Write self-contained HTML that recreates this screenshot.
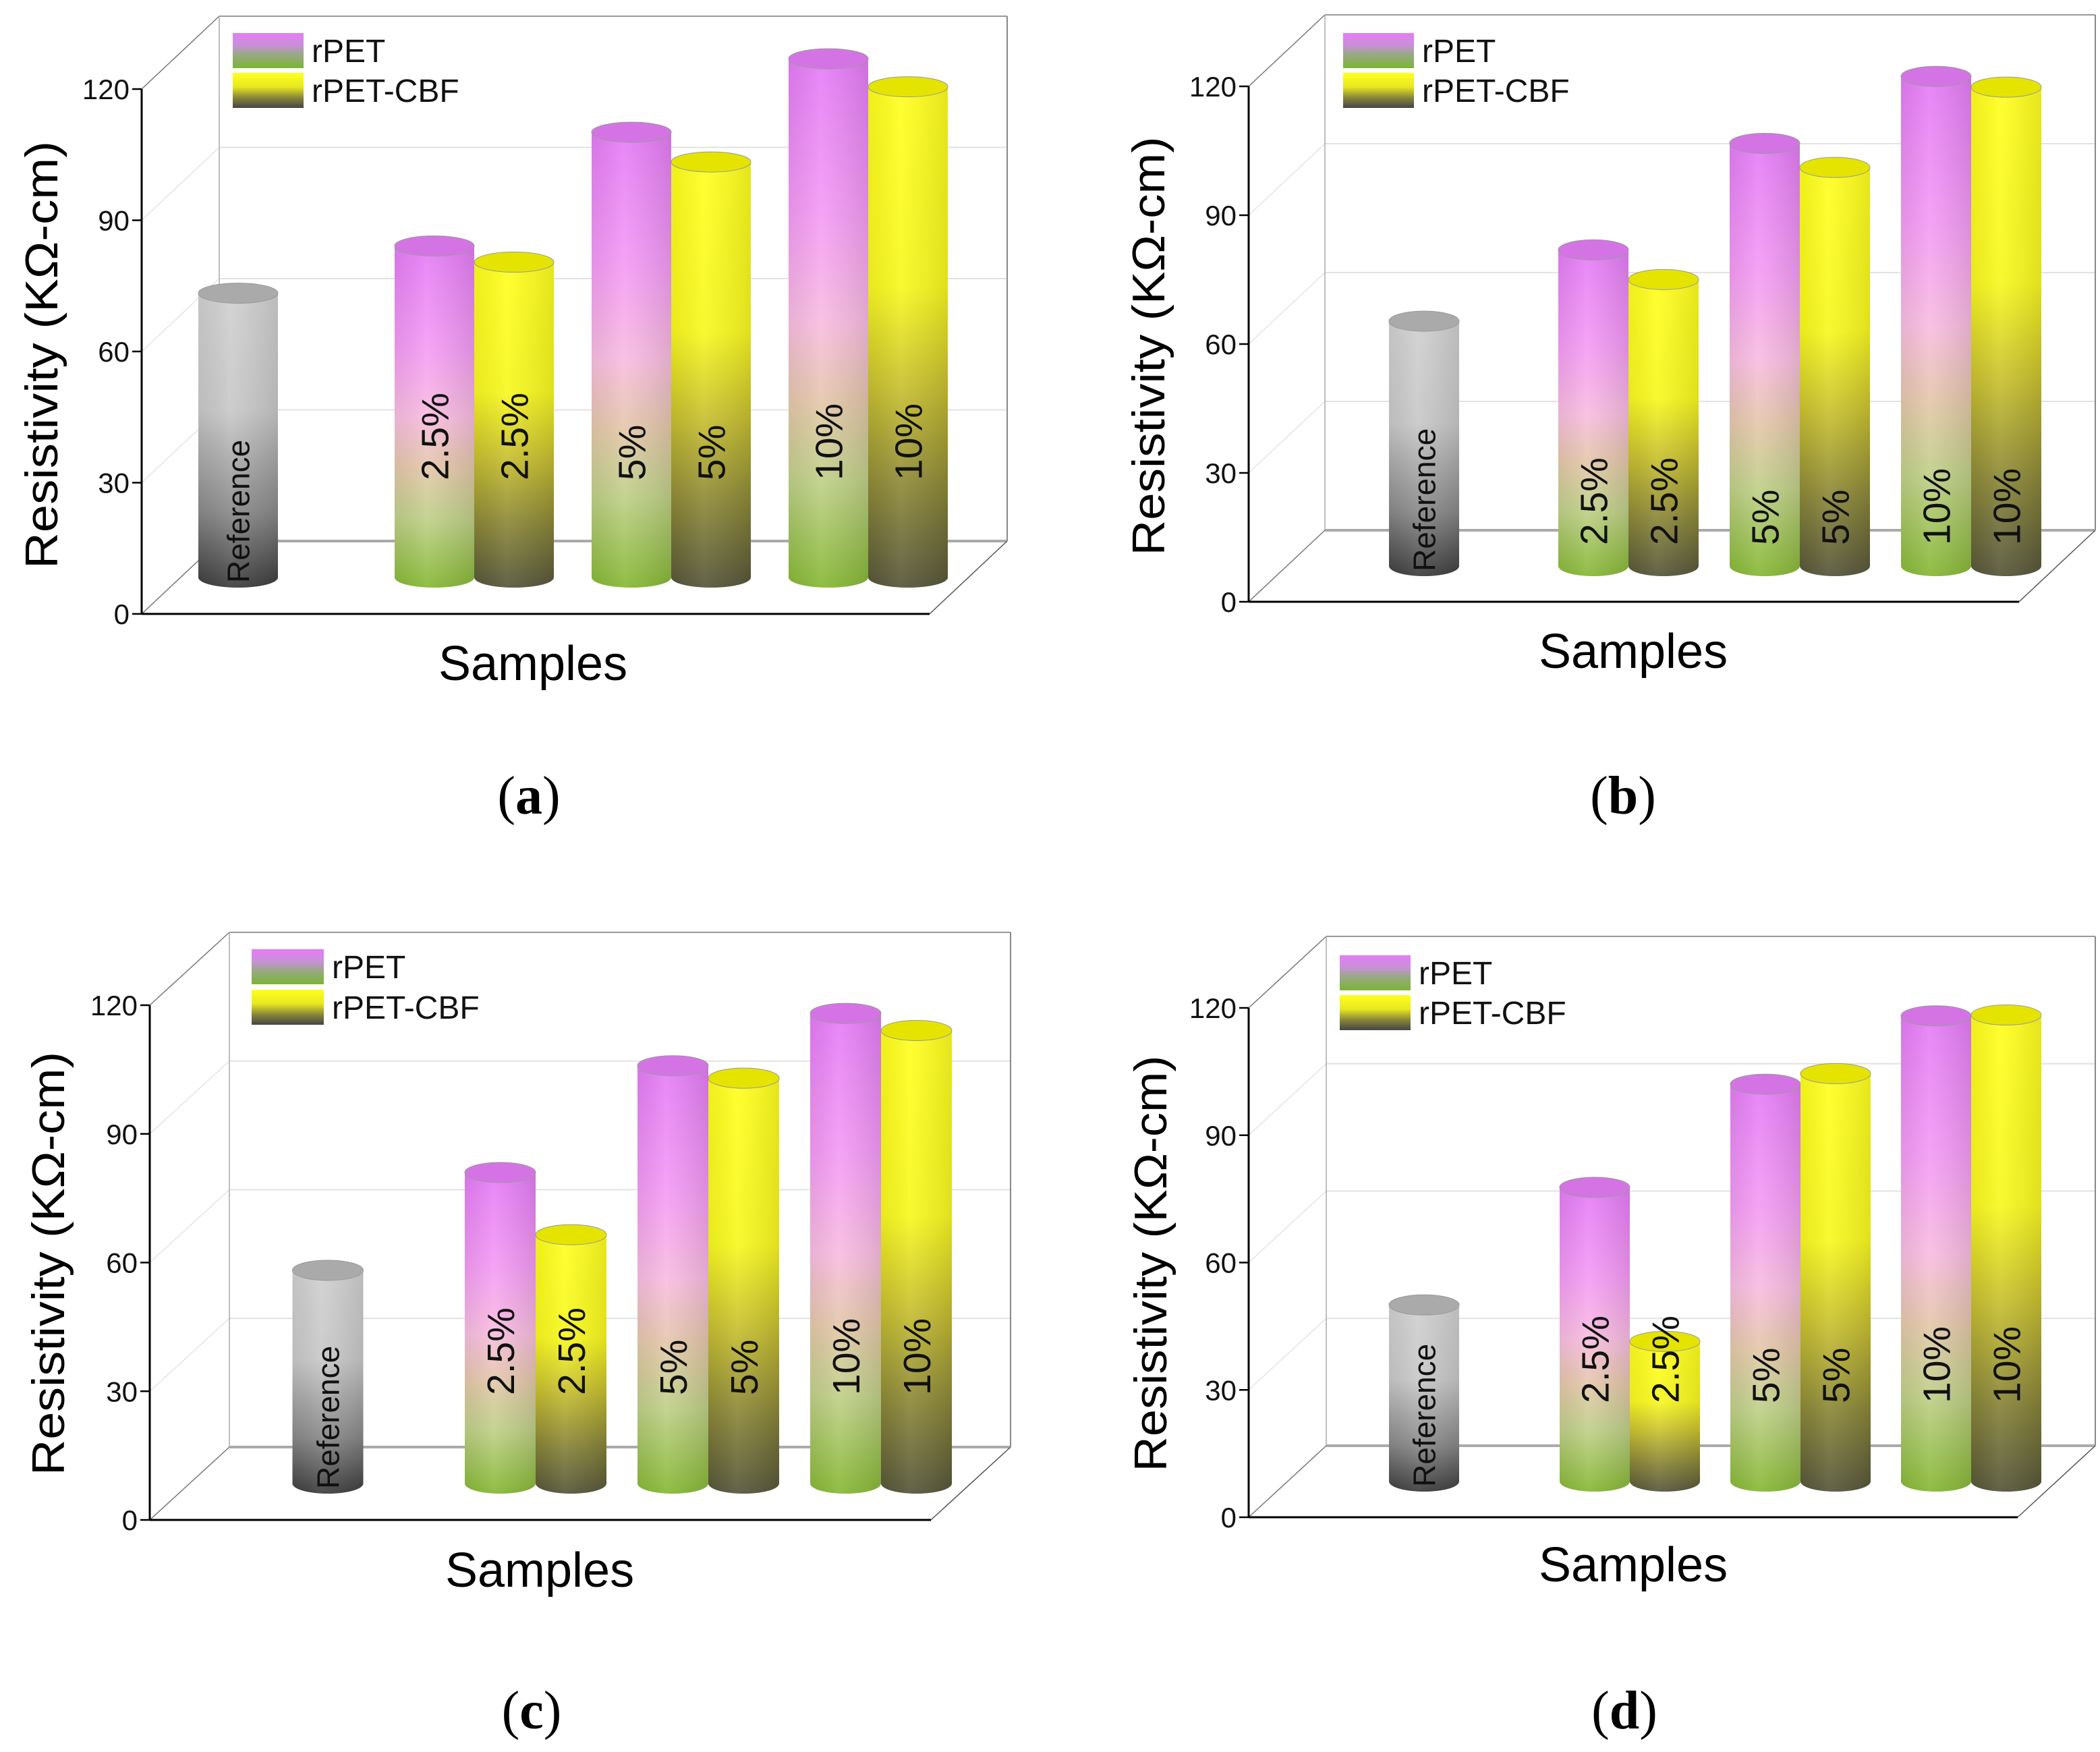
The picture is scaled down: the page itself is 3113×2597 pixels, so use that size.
<!DOCTYPE html>
<html><head><meta charset="utf-8">
<style>
html,body{margin:0;padding:0;background:#fff;}
svg{display:block;font-family:"Liberation Sans",Arial,sans-serif;}
</style></head>
<body>
<svg id="fig" width="3113" height="2597" viewBox="0 0 3113 2597" xmlns="http://www.w3.org/2000/svg">
<defs>
  <linearGradient id="gRpet" x1="0" y1="0" x2="0" y2="1">
    <stop offset="0" stop-color="#e47cf6"/>
    <stop offset="0.3" stop-color="#f49cf4"/>
    <stop offset="0.5" stop-color="#f8bde0"/>
    <stop offset="0.65" stop-color="#e4c8aa"/>
    <stop offset="0.8" stop-color="#bfd088"/>
    <stop offset="1" stop-color="#86b834"/>
  </linearGradient>
  <linearGradient id="gCbf" x1="0" y1="0" x2="0" y2="1">
    <stop offset="0" stop-color="#ffff1e"/>
    <stop offset="0.4" stop-color="#f8f820"/>
    <stop offset="0.6" stop-color="#c8c030"/>
    <stop offset="0.8" stop-color="#8c8838"/>
    <stop offset="1" stop-color="#55553a"/>
  </linearGradient>
  <linearGradient id="gRef" x1="0" y1="0" x2="0" y2="1">
    <stop offset="0" stop-color="#d0d0d0"/>
    <stop offset="0.4" stop-color="#c8c8c8"/>
    <stop offset="0.75" stop-color="#888"/>
    <stop offset="1" stop-color="#3c3c3c"/>
  </linearGradient>
  <linearGradient id="gSwRpet" x1="0" y1="0" x2="0" y2="1">
    <stop offset="0" stop-color="#e47cf6"/>
    <stop offset="0.35" stop-color="#c890d8"/>
    <stop offset="0.6" stop-color="#9aa888"/>
    <stop offset="1" stop-color="#7cb434"/>
  </linearGradient>
  <linearGradient id="gSwCbf" x1="0" y1="0" x2="0" y2="1">
    <stop offset="0" stop-color="#ffff1e"/>
    <stop offset="0.4" stop-color="#e8e820"/>
    <stop offset="0.7" stop-color="#8a8838"/>
    <stop offset="1" stop-color="#444"/>
  </linearGradient>
  <linearGradient id="gShade" x1="0" y1="0" x2="1" y2="0">
    <stop offset="0" stop-color="#000" stop-opacity="0.06"/>
    <stop offset="0.4" stop-color="#fff" stop-opacity="0.08"/>
    <stop offset="1" stop-color="#000" stop-opacity="0.1"/>
  </linearGradient>
</defs>
</svg>
<script>
// ---- data ----
const categories = ["Reference", "2.5%", "5%", "10%"];
const yTicks = [0, 30, 60, 90, 120];
const panelLetters = ["(a)", "(b)", "(c)", "(d)"];
const refValues = [65, 57, 49.7, 41.6];
const rpetA = [75.8, 101.8, 118.6];
const cbfA = [72.1, 95, 112.2];
const rpetB = [73.6, 98.4, 114];
const cbfB = [66.7, 92.8, 111.5];
const rpetC = [72.5, 97.4, 109.6];
const cbfC = [58, 94.5, 105.6];
const rpetD = [69.3, 93.6, 109.7];
const cbfD = [33, 96.1, 109.9];
const legendLabels = ["rPET", "rPET-CBF"];

const NS = "http://www.w3.org/2000/svg";
const svg = document.getElementById("fig");
function mk(tag, attrs, parent) {
  const e = document.createElementNS(NS, tag);
  for (const k in attrs) e.setAttribute(k, attrs[k]);
  (parent || svg).appendChild(e);
  return e;
}

const layouts = [
  {ox:0, oy:0, axisX:210, y0:910, y120:132, dx:115, dy:-108, right:1378, refC:353, g1:703, step:292, bw:118,
   legX:345, legY1:49, legY2:108, legH:52, legW:105, ylabX:62, ylabY:526, ylabLen:634, samX:790, samY:1008, labStart:712, letX:784, letY:1206},
  {ox:1556, oy:0, axisX:295, y0:892, y120:128, dx:113, dy:-106, right:1437, refC:555, g1:858, step:254, bw:104,
   legX:435, legY1:49, legY2:108, legH:52, legW:105, ylabX:147, ylabY:513, ylabLen:621, samX:865, samY:990, labStart:808, letX:850, letY:1206},
  {ox:0, oy:1340, axisX:222, y0:913, y120:150, dx:118, dy:-108, right:1380, refC:486, g1:794, step:256, bw:105,
   legX:373, legY1:67, legY2:127, legH:52, legW:107, ylabX:72, ylabY:533, ylabLen:628, samX:800, samY:1012, labStart:728, letX:788, letY:1222},
  {ox:1556, oy:1340, axisX:295, y0:909, y120:154, dx:115, dy:-106, right:1435, refC:555, g1:860, step:253, bw:104,
   legX:430, legY1:76, legY2:135, legH:52, legW:105, ylabX:150, ylabY:533, ylabLen:617, samX:865, samY:1004, labStart:740, letX:852, letY:1222}
];
const rpetSets = [rpetA, rpetB, rpetC, rpetD];
const cbfSets = [cbfA, cbfB, cbfC, cbfD];

function drawPanel(p, L) {
  const g = mk("g", {transform: `translate(${L.ox},${L.oy})`});
  
  
  const scale = (L.y0 - L.y120) / 120;
  const yFront = v => L.y0 - v * scale;
  const yBack = v => L.y0 + L.dy - v * scale;
  const yMid = v => L.y0 + L.dy / 2 - v * scale;
  const bx = L.axisX + L.dx, bRight = L.right + L.dx;
  const walls = mk("g", {}, g);
  
  
  for (let i = 1; i < yTicks.length; i++) {
    const v = yTicks[i];
    const gl = mk("line", {x1:bx, y1:yBack(v), x2:bRight, y2:yBack(v), stroke: v===120?"#999":"#e2e2e2", "stroke-width":2}, walls);
    
    
    const sl = mk("line", {x1:L.axisX, y1:yFront(v), x2:bx, y2:yBack(v), stroke: v===120?"#777":"#e4e4e4", "stroke-width":1.5}, walls);
    
    
  }
  mk("line", {x1:bx, y1:yBack(120), x2:bx, y2:yBack(0), stroke:"#aaa", "stroke-width":1.5}, walls);
  mk("line", {x1:bRight, y1:yBack(120), x2:bRight, y2:yBack(0), stroke:"#888", "stroke-width":2}, walls);
  mk("line", {x1:bx, y1:yBack(0), x2:bRight, y2:yBack(0), stroke:"#aaa", "stroke-width":4}, walls);
  mk("line", {x1:L.axisX, y1:yFront(0), x2:bx, y2:yBack(0), stroke:"#777", "stroke-width":1.5}, walls);
  mk("line", {x1:L.right, y1:yFront(0), x2:bRight, y2:yBack(0), stroke:"#555", "stroke-width":1.5}, walls);
  const ax = mk("g", {}, g);
  
  
  mk("line", {x1:L.axisX, y1:yFront(0)+1, x2:L.axisX, y2:yFront(120), stroke:"#000", "stroke-width":3}, ax);
  yTicks.forEach(v => {
    mk("line", {x1:L.axisX-14, y1:yFront(v), x2:L.axisX, y2:yFront(v), stroke:"#000", "stroke-width":2.5}, ax);
    const t = mk("text", {x:L.axisX-18, y:yFront(v)+15, "text-anchor":"end", "font-size":42, fill:"#111"}, ax);
    t.textContent = v;
    
    
  });
  const xa = mk("line", {x1:L.axisX, y1:yFront(0), x2:L.right, y2:yFront(0), stroke:"#000", "stroke-width":3}, g);
  
  
  const ry = 15;
  function bar(cx, v, fill, cap, name, label, labelStartY, fs) {
    const bg = mk("g", {}, g);
    
    
    const top = yMid(v), bot = yMid(0);
    const x = cx - L.bw/2;
    const d = `M${x},${top} L${x},${bot} A${L.bw/2},${ry} 0 0 0 ${x+L.bw},${bot} L${x+L.bw},${top} Z`;
    mk("path", {d:d, fill:`url(#${fill})`}, bg);
    mk("path", {d:d, fill:"url(#gShade)"}, bg);
    mk("ellipse", {cx:cx, cy:top, rx:L.bw/2, ry:ry, fill:cap, stroke:"#999", "stroke-width":1}, bg);
    const t = mk("text", {x:cx + fs*0.36, y:labelStartY, transform:`rotate(-90 ${cx + fs*0.36} ${labelStartY})`, "font-size":fs, fill:"#111"}, bg);
    t.textContent = label;
    
    
  }
  bar(L.refC, refValues[p], "gRef", "#aaaaaa", "bar-reference", categories[0], yMid(0) + 8, 46);
  const rp = rpetSets[p], cb = cbfSets[p];
  for (let i = 0; i < rp.length; i++) {
    const gc = L.g1 + i * L.step;
    bar(gc - L.bw/2, rp[i], "gRpet", "#d474e4", "bar-rpet-" + categories[i+1], categories[i+1], L.labStart, 57);
    bar(gc + L.bw/2, cb[i], "gCbf", "#e4e400", "bar-rpet-cbf-" + categories[i+1], categories[i+1], L.labStart, 57);
  }
  const lg = mk("g", {}, g);
  
  
  [["gSwRpet", L.legY1], ["gSwCbf", L.legY2]].forEach((s, i) => {
    const e = mk("g", {}, lg);
    
    
    mk("rect", {x:L.legX, y:s[1], width:L.legW, height:L.legH, fill:`url(#${s[0]})`}, e);
    const t = mk("text", {x:L.legX + L.legW + 12, y:s[1] + L.legH/2 + 17, "font-size":48, fill:"#111"}, e);
    t.textContent = legendLabels[i];
  });
  const yl = mk("text", {x:L.ylabX, y:L.ylabY, transform:`rotate(-90 ${L.ylabX} ${L.ylabY})`, "text-anchor":"middle", "dominant-baseline":"central", "font-size":68, textLength:L.ylabLen, lengthAdjust:"spacingAndGlyphs", fill:"#000"}, g);
  yl.textContent = "Resistivity (KΩ-cm)";
  
  
  const xl = mk("text", {x:L.samX, y:L.samY, "text-anchor":"middle", "font-size":72, fill:"#000"}, g);
  xl.textContent = "Samples";
  
  
  const pl = mk("text", {x:L.letX, y:L.letY, "text-anchor":"middle", "font-size":80, "font-family":"Liberation Serif, serif", fill:"#000"}, g);
  pl.innerHTML = '(<tspan font-weight="bold">' + panelLetters[p].slice(1,2) + '</tspan>)';
  
  
}
layouts.forEach((L, p) => drawPanel(p, L));
</script>
</body></html>
